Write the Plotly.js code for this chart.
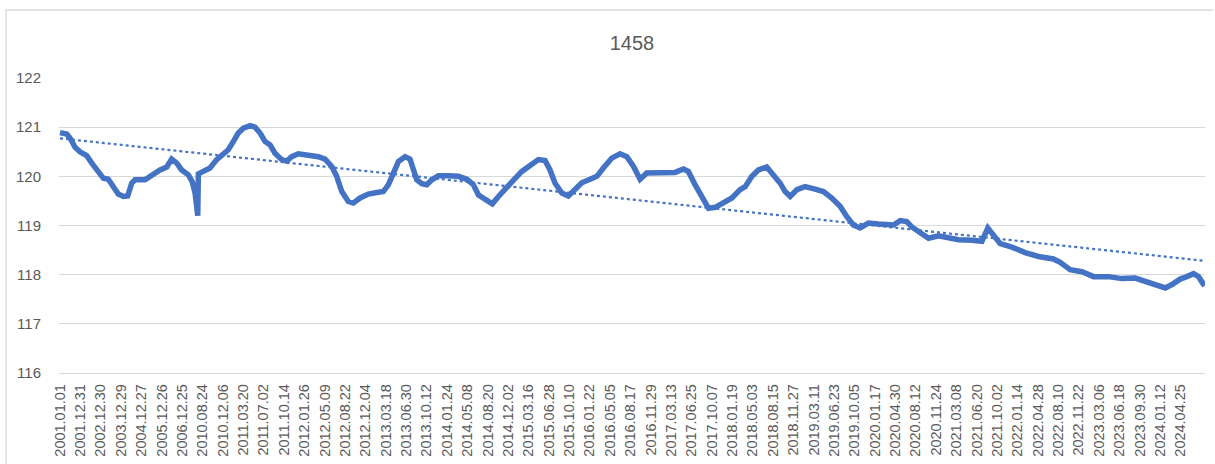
<!DOCTYPE html>
<html>
<head>
<meta charset="utf-8">
<script src="https://cdn.plot.ly/plotly-3.0.1.min.js"></script>
<style>html,body{margin:0;padding:0;background:#fff;}#chart{width:1215px;height:464px;}</style>
</head>
<body>
<div id="chart"></div>
<script>
// Category tick labels (one every N categories)
const tickLabels = [
  "2001.01.01","2001.12.31","2002.12.30","2003.12.29","2004.12.27","2005.12.26","2006.12.25",
  "2010.08.24","2010.12.06","2011.03.20","2011.07.02","2011.10.14","2012.01.26","2012.05.09",
  "2012.08.22","2012.12.04","2013.03.18","2013.06.30","2013.10.12","2014.01.24","2014.05.08",
  "2014.08.20","2014.12.02","2015.03.16","2015.06.28","2015.10.10","2016.01.22","2016.05.05",
  "2016.08.17","2016.11.29","2017.03.13","2017.06.25","2017.10.07","2018.01.19","2018.05.03",
  "2018.08.15","2018.11.27","2019.03.11","2019.06.23","2019.10.05","2020.01.17","2020.04.30",
  "2020.08.12","2020.11.24","2021.03.08","2021.06.20","2021.10.02","2022.01.14","2022.04.28",
  "2022.08.10","2022.11.22","2023.03.06","2023.06.18","2023.09.30","2024.01.12","2024.04.25"
];

// Position of each sampled point, in tick-interval units along the category axis
const pos = [
  0.00,0.33,0.49,0.74,0.98,1.31,1.56,1.88,2.13,2.37,2.62,2.86,3.11,3.32,3.52,3.68,4.17,4.50,4.91,5.24,
  5.48,5.73,5.97,6.30,6.49,6.63,6.76,6.79,7.03,7.36,7.69,8.02,8.26,8.51,8.75,9.00,9.33,9.57,9.82,10.06,
  10.31,10.55,10.88,11.13,11.37,11.70,12.19,12.68,13.01,13.34,13.58,13.83,14.15,14.40,14.73,15.13,15.55,15.87,16.12,16.36,
  16.61,16.94,17.18,17.35,17.51,17.76,18.00,18.25,18.57,19.06,19.55,19.97,20.29,20.54,20.86,21.22,21.52,21.93,22.34,22.67,
  23.07,23.48,23.81,24.05,24.30,24.63,24.95,25.28,25.61,26.02,26.35,26.67,27.08,27.49,27.82,28.15,28.47,28.80,29.21,29.70,
  30.19,30.60,30.84,31.17,31.50,31.83,32.16,32.56,32.98,33.38,33.63,33.96,34.28,34.69,35.02,35.35,35.59,35.84,36.17,36.57,
  37.06,37.47,37.88,38.29,38.62,38.94,39.27,39.68,40.17,40.66,40.91,41.24,41.56,41.81,42.14,42.63,43.12,43.61,44.10,44.76,
  45.25,45.54,45.82,46.15,46.72,47.37,48.03,48.76,49.09,49.58,50.16,50.73,51.46,52.12,52.77,53.43,54.25,54.58,54.98,55.31,
  55.64,55.88,56.18
];

// Series values (1458)
const vals = [
  120.89,120.86,120.78,120.59,120.50,120.42,120.27,120.07,119.96,119.94,119.76,119.64,119.59,119.60,119.86,119.93,119.93,120.03,120.13,120.19,
  120.35,120.27,120.13,120.03,119.89,119.66,119.20,120.05,120.10,120.17,120.34,120.44,120.54,120.71,120.88,120.98,121.03,121.00,120.88,120.71,
  120.64,120.47,120.34,120.31,120.40,120.46,120.44,120.40,120.35,120.20,120.00,119.69,119.49,119.46,119.56,119.64,119.67,119.69,119.83,120.07,
  120.30,120.40,120.35,120.13,119.93,119.85,119.83,119.93,120.01,120.01,120.00,119.94,119.83,119.62,119.54,119.44,119.59,119.79,119.96,120.10,
  120.23,120.34,120.32,120.13,119.86,119.66,119.60,119.74,119.87,119.94,120.00,120.17,120.37,120.46,120.40,120.20,119.94,120.07,120.08,120.07,
  120.08,120.15,120.10,119.83,119.56,119.35,119.37,119.45,119.56,119.73,119.79,120.00,120.13,120.19,120.03,119.86,119.69,119.59,119.73,119.79,
  119.74,119.69,119.56,119.39,119.18,119.01,118.95,119.05,119.03,119.01,119.01,119.10,119.08,118.97,118.88,118.74,118.79,118.76,118.71,118.70,
  118.68,118.95,118.81,118.63,118.56,118.45,118.37,118.32,118.25,118.10,118.06,117.96,117.96,117.92,117.93,117.83,117.73,117.80,117.91,117.96,
  118.02,117.96,117.77
];

// Linear trendline (least squares, weighted by spacing so it approximates an evenly sampled series)
function trend(xs, ys) {
  const n = xs.length, w = [];
  for (let i = 0; i < n; i++) {
    const a = i > 0 ? xs[i] - xs[i-1] : 0;
    const b = i < n-1 ? xs[i+1] - xs[i] : 0;
    w.push((a + b) / 2);
  }
  let sw=0, sx=0, sy=0, sxx=0, sxy=0;
  for (let i = 0; i < n; i++) {
    sw += w[i]; sx += w[i]*xs[i]; sy += w[i]*ys[i];
    sxx += w[i]*xs[i]*xs[i]; sxy += w[i]*xs[i]*ys[i];
  }
  const slope = (sw*sxy - sx*sy) / (sw*sxx - sx*sx);
  const icpt = (sy - slope*sx) / sw;
  const x0 = xs[0], x1 = xs[n-1];
  return {x:[x0, x1], y:[icpt + slope*x0, icpt + slope*x1]};
}
const tr = trend(pos, vals);

const blue = '#4472C4';
const grey = '#595959';
const grid = '#d9d9d9';

const data = [
  {x: pos, y: vals, type: 'scatter', mode: 'lines', line: {color: blue, width: 5.5}, name: '1458'},
  {x: tr.x, y: tr.y, type: 'scatter', mode: 'lines', line: {color: blue, width: 2.2, dash: 'dot'}, name: 'trend'}
];

const layout = {
  width: 1215, height: 464,
  margin: {l: 59, r: 10, t: 78, b: 91},
  paper_bgcolor: '#fff', plot_bgcolor: '#fff',
  showlegend: false,
  title: {text: '1458', font: {family: 'Liberation Sans, Arial, sans-serif', size: 20, color: grey},
          x: 0.5, xref: 'paper', y: 1 - 43/464, yref: 'container', yanchor: 'middle'},
  xaxis: {
    range: [-0.05, 56.2],
    tickmode: 'array',
    tickvals: tickLabels.map((_, i) => i),
    ticktext: tickLabels,
    tickangle: -90,
    ticks: 'outside', ticklen: 4, tickcolor: 'rgba(0,0,0,0)',
    tickfont: {family: 'Liberation Sans, Arial, sans-serif', size: 14.5, color: grey},
    showgrid: false, zeroline: false,
    showline: true, linecolor: grid, linewidth: 1.3
  },
  yaxis: {
    range: [116, 122],
    tickvals: [116, 117, 118, 119, 120, 121, 122],
    ticks: 'outside', ticklen: 14, tickcolor: 'rgba(0,0,0,0)',
    tickfont: {family: 'Liberation Sans, Arial, sans-serif', size: 15, color: grey},
    showgrid: true, gridcolor: grid, gridwidth: 1.3,
    zeroline: false, showline: false
  },
  shapes: [
    {type: 'path', xref: 'paper', yref: 'paper',
     path: 'M -0.0463,-0.35 L -0.0463,1.2305 L 1.0069,1.2305',
     line: {color: grid, width: 1.3}}
  ]
};

Plotly.newPlot('chart', data, layout, {staticPlot: true, displayModeBar: false});
</script>
</body>
</html>
